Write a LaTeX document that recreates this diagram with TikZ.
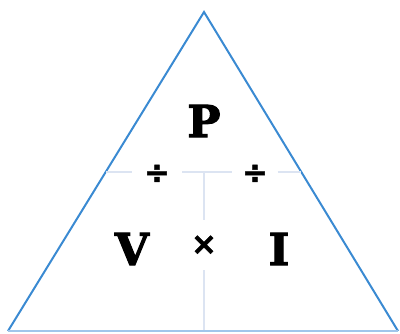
\documentclass[tikz,border=0pt]{standalone}
\usepackage{fontspec}
\newfontfamily\lawfont{DejaVu Serif}[BoldFeatures={FakeBold=2.5}]
\newfontfamily\opfont{DejaVu Sans}[BoldFeatures={FakeBold=1.5}]
\usetikzlibrary{positioning,calc}
\definecolor{triblue}{RGB}{58,138,210}
\definecolor{baseblue}{RGB}{160,198,235}
\definecolor{divgray}{RGB}{220,228,242}
\tikzset{
  qtylab/.style={font=\lawfont\bfseries\fontsize{44}{48}\selectfont,inner sep=0pt},
  oplab/.style={font=\opfont\bfseries\fontsize{31}{33}\selectfont,inner sep=0pt},
  triedge/.style={triblue,line width=2pt,line join=miter},
  tribase/.style={baseblue,line width=2pt},
  divline/.style={divgray,line width=1.6pt}
}

\begin{document}
\begin{tikzpicture}[x=1pt,y=-1pt]
  \useasboundingbox (0,0) rectangle (400,333);
  % triangle corners
  \coordinate (apex) at (204,12);
  \coordinate (bl) at (8,331);
  \coordinate (br) at (398,331);
  \draw[triedge] (bl) -- (apex) -- (br);
  \draw[tribase] (bl) -- (br);
  % quantities
  \node[qtylab] (P) at (204,121) {P};
  \node[qtylab] (V) at (132,249) {V};
  \node[qtylab] (I) at (279,249) {I};
  \node[oplab,minimum width=50pt] (divl) at (157,174) {÷};
  \node[oplab,minimum width=45pt] (divr) at (255,174) {÷};
  \node[oplab,minimum height=50pt] (mul) at (204,245) {×};
  % dividers
  \coordinate (hl) at (106,172);
  \coordinate (hr) at (301,172);
  \coordinate (vt) at (204,172);
  \coordinate (vb) at (204,330);
  \draw[divline] (hl) -- (divl.west |- hl);
  \draw[divline] (divl.east |- hl) -- (divr.west |- hr);
  \draw[divline] (divr.east |- hr) -- (hr);
  \draw[divline] (vt) -- (mul.north);
  \draw[divline] (mul.south) -- (vb);
\end{tikzpicture}
\end{document}
